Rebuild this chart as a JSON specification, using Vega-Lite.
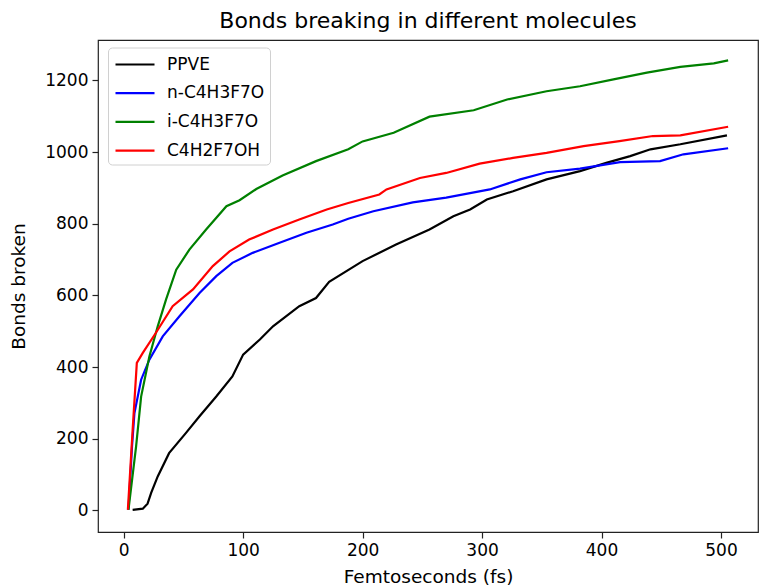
{
  "$schema": "https://vega.github.io/schema/vega-lite/v6.json",
  "width": 660,
  "height": 492,
  "autosize": "none",
  "padding": {"left": 98, "top": 40, "right": 1, "bottom": 56},
  "background": "white",
  "config": {
    "font": "DejaVu Sans",
    "view": {"stroke": "#222", "strokeWidth": 1.2},
    "axis": {"grid": false, "domain": false, "tickColor": "#222", "tickSize": 6, "tickWidth": 1.2, "labelColor": "#000", "labelFontSize": 17, "labelPadding": 4, "titleColor": "#000", "titleFontSize": 18.5, "titleFontWeight": "normal", "labelFont": "DejaVu Sans", "titleFont": "DejaVu Sans"}
  },
  "title": {"text": "Bonds breaking in different molecules", "fontSize": 22, "fontWeight": "normal", "font": "DejaVu Sans", "color": "#000", "anchor": "middle", "offset": 7},
  "data": {"values": [
    {"t": 7.5, "b": 2, "m": "PPVE"},
    {"t": 16, "b": 5, "m": "PPVE"},
    {"t": 20, "b": 19, "m": "PPVE"},
    {"t": 23, "b": 49, "m": "PPVE"},
    {"t": 28.5, "b": 95, "m": "PPVE"},
    {"t": 38, "b": 160, "m": "PPVE"},
    {"t": 52, "b": 216, "m": "PPVE"},
    {"t": 63.5, "b": 263, "m": "PPVE"},
    {"t": 77.5, "b": 318, "m": "PPVE"},
    {"t": 91, "b": 374, "m": "PPVE"},
    {"t": 100, "b": 435, "m": "PPVE"},
    {"t": 114, "b": 477, "m": "PPVE"},
    {"t": 125, "b": 514, "m": "PPVE"},
    {"t": 147, "b": 570, "m": "PPVE"},
    {"t": 161, "b": 593, "m": "PPVE"},
    {"t": 172, "b": 638, "m": "PPVE"},
    {"t": 200, "b": 696, "m": "PPVE"},
    {"t": 228, "b": 742, "m": "PPVE"},
    {"t": 256, "b": 784, "m": "PPVE"},
    {"t": 276, "b": 821, "m": "PPVE"},
    {"t": 290, "b": 840, "m": "PPVE"},
    {"t": 304, "b": 868, "m": "PPVE"},
    {"t": 326, "b": 891, "m": "PPVE"},
    {"t": 354, "b": 924, "m": "PPVE"},
    {"t": 382, "b": 947, "m": "PPVE"},
    {"t": 404, "b": 970, "m": "PPVE"},
    {"t": 424, "b": 989, "m": "PPVE"},
    {"t": 441, "b": 1008, "m": "PPVE"},
    {"t": 466, "b": 1022, "m": "PPVE"},
    {"t": 505, "b": 1047, "m": "PPVE"},

    {"t": 4, "b": 2, "m": "n-C4H3F7O"},
    {"t": 7, "b": 180, "m": "n-C4H3F7O"},
    {"t": 9, "b": 272, "m": "n-C4H3F7O"},
    {"t": 14.6, "b": 365, "m": "n-C4H3F7O"},
    {"t": 21.5, "b": 421, "m": "n-C4H3F7O"},
    {"t": 32.7, "b": 486, "m": "n-C4H3F7O"},
    {"t": 46.7, "b": 542, "m": "n-C4H3F7O"},
    {"t": 63.5, "b": 607, "m": "n-C4H3F7O"},
    {"t": 77.5, "b": 654, "m": "n-C4H3F7O"},
    {"t": 91, "b": 691, "m": "n-C4H3F7O"},
    {"t": 108, "b": 719, "m": "n-C4H3F7O"},
    {"t": 130.5, "b": 747, "m": "n-C4H3F7O"},
    {"t": 153, "b": 775, "m": "n-C4H3F7O"},
    {"t": 175, "b": 798, "m": "n-C4H3F7O"},
    {"t": 188, "b": 814, "m": "n-C4H3F7O"},
    {"t": 209, "b": 835, "m": "n-C4H3F7O"},
    {"t": 242, "b": 860, "m": "n-C4H3F7O"},
    {"t": 270, "b": 873, "m": "n-C4H3F7O"},
    {"t": 306.5, "b": 896, "m": "n-C4H3F7O"},
    {"t": 332, "b": 924, "m": "n-C4H3F7O"},
    {"t": 354, "b": 944, "m": "n-C4H3F7O"},
    {"t": 382, "b": 954, "m": "n-C4H3F7O"},
    {"t": 415.5, "b": 972, "m": "n-C4H3F7O"},
    {"t": 449, "b": 975, "m": "n-C4H3F7O"},
    {"t": 468.6, "b": 994, "m": "n-C4H3F7O"},
    {"t": 506, "b": 1011, "m": "n-C4H3F7O"},

    {"t": 4, "b": 2, "m": "i-C4H3F7O"},
    {"t": 10.4, "b": 179, "m": "i-C4H3F7O"},
    {"t": 14.6, "b": 318, "m": "i-C4H3F7O"},
    {"t": 21.5, "b": 430, "m": "i-C4H3F7O"},
    {"t": 28.5, "b": 514, "m": "i-C4H3F7O"},
    {"t": 35.5, "b": 589, "m": "i-C4H3F7O"},
    {"t": 44, "b": 672, "m": "i-C4H3F7O"},
    {"t": 55, "b": 728, "m": "i-C4H3F7O"},
    {"t": 69, "b": 784, "m": "i-C4H3F7O"},
    {"t": 86, "b": 849, "m": "i-C4H3F7O"},
    {"t": 97, "b": 866, "m": "i-C4H3F7O"},
    {"t": 111, "b": 897, "m": "i-C4H3F7O"},
    {"t": 133, "b": 935, "m": "i-C4H3F7O"},
    {"t": 161, "b": 975, "m": "i-C4H3F7O"},
    {"t": 188, "b": 1008, "m": "i-C4H3F7O"},
    {"t": 200, "b": 1030, "m": "i-C4H3F7O"},
    {"t": 226, "b": 1054, "m": "i-C4H3F7O"},
    {"t": 256, "b": 1099, "m": "i-C4H3F7O"},
    {"t": 293, "b": 1117, "m": "i-C4H3F7O"},
    {"t": 321, "b": 1147, "m": "i-C4H3F7O"},
    {"t": 354, "b": 1170, "m": "i-C4H3F7O"},
    {"t": 382, "b": 1184, "m": "i-C4H3F7O"},
    {"t": 410, "b": 1203, "m": "i-C4H3F7O"},
    {"t": 438, "b": 1222, "m": "i-C4H3F7O"},
    {"t": 466, "b": 1238, "m": "i-C4H3F7O"},
    {"t": 494, "b": 1248, "m": "i-C4H3F7O"},
    {"t": 506, "b": 1256, "m": "i-C4H3F7O"},

    {"t": 3.5, "b": 2, "m": "C4H2F7OH"},
    {"t": 7.5, "b": 225, "m": "C4H2F7OH"},
    {"t": 11, "b": 412, "m": "C4H2F7OH"},
    {"t": 16, "b": 440, "m": "C4H2F7OH"},
    {"t": 27, "b": 496, "m": "C4H2F7OH"},
    {"t": 41, "b": 570, "m": "C4H2F7OH"},
    {"t": 58, "b": 617, "m": "C4H2F7OH"},
    {"t": 74.6, "b": 682, "m": "C4H2F7OH"},
    {"t": 88.6, "b": 723, "m": "C4H2F7OH"},
    {"t": 105, "b": 756, "m": "C4H2F7OH"},
    {"t": 125, "b": 784, "m": "C4H2F7OH"},
    {"t": 147, "b": 812, "m": "C4H2F7OH"},
    {"t": 170, "b": 840, "m": "C4H2F7OH"},
    {"t": 188, "b": 858, "m": "C4H2F7OH"},
    {"t": 214, "b": 882, "m": "C4H2F7OH"},
    {"t": 220, "b": 896, "m": "C4H2F7OH"},
    {"t": 248, "b": 928, "m": "C4H2F7OH"},
    {"t": 270, "b": 942, "m": "C4H2F7OH"},
    {"t": 298, "b": 968, "m": "C4H2F7OH"},
    {"t": 326, "b": 984, "m": "C4H2F7OH"},
    {"t": 354, "b": 998, "m": "C4H2F7OH"},
    {"t": 385, "b": 1017, "m": "C4H2F7OH"},
    {"t": 415, "b": 1031, "m": "C4H2F7OH"},
    {"t": 443, "b": 1045, "m": "C4H2F7OH"},
    {"t": 466, "b": 1047, "m": "C4H2F7OH"},
    {"t": 506, "b": 1071, "m": "C4H2F7OH"}
  ]},
  "mark": {"type": "line", "strokeWidth": 2.2, "clip": true},
  "encoding": {
    "x": {"field": "t", "type": "quantitative", "title": "Femtoseconds (fs)", "scale": {"domain": [-21.5, 531], "nice": false, "zero": false}, "axis": {"values": [0, 100, 200, 300, 400, 500], "titlePadding": 9}},
    "y": {"field": "b", "type": "quantitative", "title": "Bonds broken", "scale": {"domain": [-60, 1313], "nice": false, "zero": false}, "axis": {"values": [0, 200, 400, 600, 800, 1000, 1200], "format": "d", "titlePadding": 16}},
    "color": {"field": "m", "type": "nominal", "title": null,
      "scale": {"domain": ["PPVE", "n-C4H3F7O", "i-C4H3F7O", "C4H2F7OH"], "range": ["#000000", "#0000ff", "#008000", "#ff0000"]},
      "legend": {"orient": "none", "legendX": 10, "legendY": 7.5, "symbolType": "M-1.95,0H1.95", "symbolSize": 400, "symbolStrokeWidth": 2.2, "symbolOffset": 10, "labelFontSize": 17, "labelFont": "DejaVu Sans", "labelColor": "#000", "labelOffset": 20.5, "rowPadding": 8.7, "padding": 5.5, "strokeColor": "#d0d0d0", "fillColor": "white", "cornerRadius": 4}
    },
    "order": {"field": "t", "type": "quantitative"}
  }
}
